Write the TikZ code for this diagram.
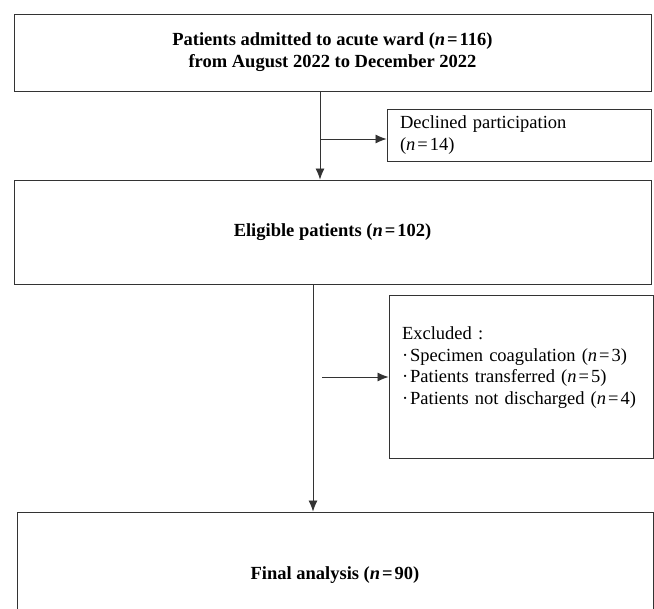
\documentclass[tikz,border=0pt]{standalone}
\usepackage{fontspec}
\setmainfont{Liberation Serif}
\usepackage{tikz}
\usetikzlibrary{arrows.meta}

\newcommand{\nn}[1]{(\textit{n}\kern2pt=\kern2pt#1)}
\newcommand{\bul}{\textperiodcentered\kern2pt}

\begin{document}
\begin{tikzpicture}[x=1pt,y=-1pt]
	\tikzstyle{every node}+=[font=\fontsize{18.5}{21.8}\selectfont]
	\tikzstyle{bigbox}=[draw=black!80,line width=0.9pt,inner sep=0pt,align=center]
	\tikzstyle{sidebox}=[draw=black!80,line width=0.9pt,inner xsep=13pt,inner ysep=0pt,align=left,text width=238pt,minimum width=264pt]
	\tikzstyle{arr}=[draw=black!80,line width=0.8pt,-{Latex[length=11pt,width=9pt]}]
	\useasboundingbox (0,0) rectangle (654,609);
	\clip (0,0) rectangle (654,609);
	\node[bigbox,minimum width=637pt,minimum height=77pt] (adm) at (332.5,52.5) {\textbf{Patients admitted to acute ward \nn{116}}\\\textbf{from August 2022 to December 2022}};
	\node[sidebox,minimum height=52pt] (decl) at (519,135) {Declined participation\\\nn{14}};
	\node[bigbox,minimum width=637pt,minimum height=104pt] (elig) at (332.5,232) {\textbf{Eligible patients \nn{102}}};
	\node[sidebox,minimum height=163pt] (excl) at (521,376.5) {Excluded :\\\bul Specimen coagulation \nn{3}\\\bul Patients transferred \nn{5}\\\bul Patients not discharged \nn{4}\\\mbox{}};
	\node[bigbox,minimum width=636pt,minimum height=126pt] (final) at (335,575) {\textbf{Final analysis \nn{90}}};
	\coordinate (j1) at (320,139);
	\coordinate (j2) at (322,377);
	\coordinate (v2) at (313,377);
	\draw[arr] (adm.south -| j1) -- (elig.north -| j1);
	\draw[arr] (j1) -- (decl.west |- j1);
	\draw[arr] (elig.south -| v2) -- (final.north -| v2);
	\draw[arr] (j2) -- (excl.west |- j2);
\end{tikzpicture}
\end{document}
